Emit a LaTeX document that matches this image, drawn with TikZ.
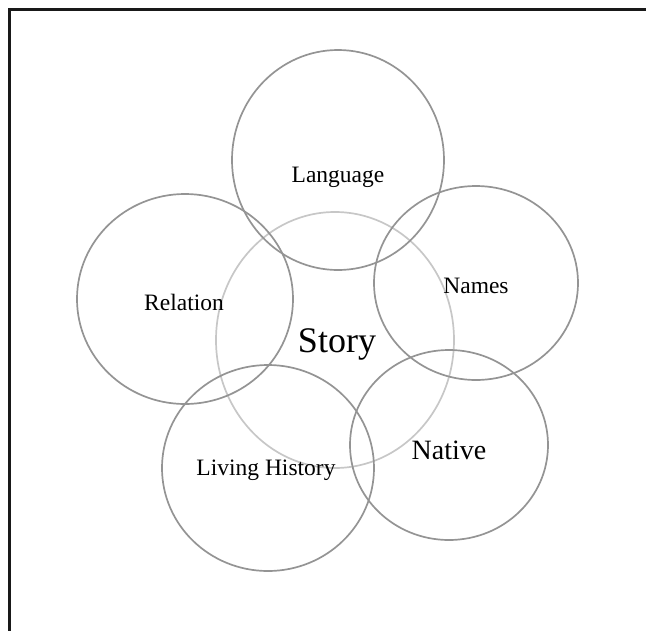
\documentclass[tikz,border=0pt]{standalone}
\usepackage{fontspec}
\setmainfont{Liberation Serif}
\begin{document}
\begin{tikzpicture}[x=1pt,y=-1pt,
  ring/.style={draw=black!42,line width=1.7pt},
  corering/.style={draw=black!22,line width=1.7pt},
  lbl/.style={font=\fontsize{23.5}{28}\selectfont},
  frameline/.style={draw=black!90,line width=2.2pt}]
  \useasboundingbox (0,0) rectangle (646,630);
  % frame: only the top and left edges show
  \draw[frameline] (9.5,632) -- (9.5,9.5) -- (648,9.5);
  % central ring
  \draw[corering] (335,340) ellipse [x radius=119, y radius=128];
  % surrounding rings
  \draw[ring] (338,160) ellipse [x radius=106, y radius=110];
  \draw[ring] (476,283) ellipse [x radius=102, y radius=97];
  \draw[ring] (449,445) ellipse [x radius=99, y radius=95];
  \draw[ring] (268,468) ellipse [x radius=106, y radius=103];
  \draw[ring] (185,299) ellipse [x radius=108, y radius=105];
  % labels
  \node[font=\fontsize{36}{42}\selectfont] (story) at (337,344) {Story};
  \node[lbl] (language) at (338,177) {Language};
  \node[lbl] (names) at (476,286) {Names};
  \node[lbl] (relation) at (184,302) {Relation};
  \node[font=\fontsize{28}{33}\selectfont] (native) at (449,450) {Native};
  \node[lbl] (living) at (266,470) {Living History};
\end{tikzpicture}
\end{document}
